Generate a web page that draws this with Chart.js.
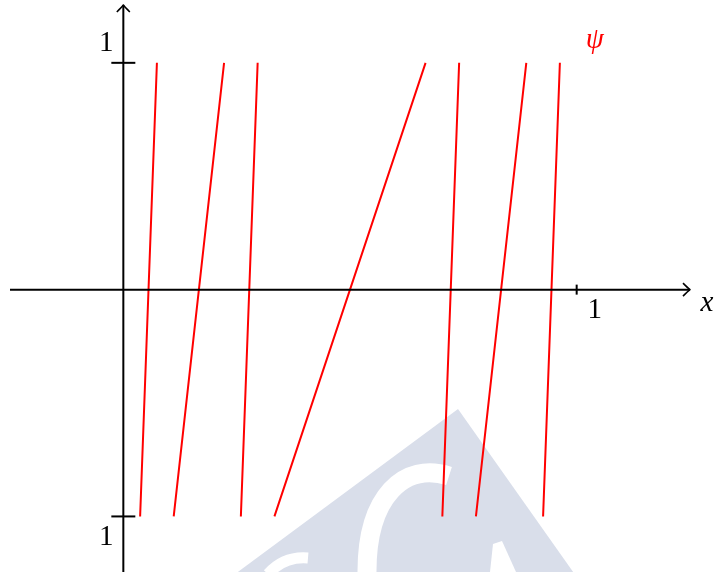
<!DOCTYPE html>
<html>
<head>
<meta charset="utf-8">
<script src="https://cdn.jsdelivr.net/npm/chart.js@4"></script>
<style>
  html, body { margin: 0; padding: 0; background: #ffffff; }
  #wrap { width: 714px; height: 572px; position: relative; }
</style>
</head>
<body>
<div id="wrap"><canvas id="chart"></canvas></div>
<script>
// Branches of psi: each runs from (start, -1) up to (end, 1)
const branchStart = [1 / 27, 3 / 27, 7 / 27, 9 / 27, 19 / 27, 21 / 27, 25 / 27];
const branchEnd = [2 / 27, 6 / 27, 8 / 27, 18 / 27, 20 / 27, 24 / 27, 26 / 27];
const yRange = [-1, 1];
const xTicks = [1];
const yTicks = [1, -1];
const yTickLabels = ['1', '1'];
const seriesLabel = 'ψ';
const xLabel = 'x';

// one dataset, branches separated by null gaps
const points = [];
branchStart.forEach((s, i) => {
  points.push({ x: s, y: yRange[0] });
  points.push({ x: branchEnd[i], y: yRange[1] });
  points.push({ x: null, y: null });
});

// faint logo stamp behind the plot
const stampPlugin = {
  id: 'stamp',
  beforeDatasetsDraw(chart) {
    const ctx = chart.ctx;
    ctx.save();
    ctx.fillStyle = '#d9deea';
    ctx.beginPath();
    ctx.moveTo(458, 409);
    ctx.lineTo(600, 610);
    ctx.lineTo(458, 760);
    ctx.lineTo(200, 600);
    ctx.closePath();
    ctx.fill();

    ctx.fillStyle = '#ffffff';
    ctx.strokeStyle = '#ffffff';
    // the "C"
    ctx.lineWidth = 19;
    ctx.lineCap = 'butt';
    ctx.beginPath();
    ctx.moveTo(449, 476);
    ctx.bezierCurveTo(405, 462, 366, 495, 367, 575);
    ctx.stroke();
    // pieces of the neighbouring letters
    ctx.beginPath();
    ctx.moveTo(493, 544);
    ctx.lineTo(502, 541);
    ctx.lineTo(516, 572);
    ctx.lineTo(490, 572);
    ctx.closePath();
    ctx.fill();
    ctx.lineWidth = 11;
    ctx.beginPath();
    ctx.moveTo(268, 574);
    ctx.quadraticCurveTo(284, 556, 308, 558);
    ctx.stroke();
    ctx.restore();
  }
};

// axes through the origin with arrowheads, ticks and labels
const axesPlugin = {
  id: 'crossAxes',
  afterDatasetsDraw(chart) {
    const ctx = chart.ctx;
    const xs = chart.scales.x;
    const ys = chart.scales.y;
    const area = chart.chartArea;
    const ox = xs.getPixelForValue(0);
    const oy = ys.getPixelForValue(0);
    ctx.save();
    ctx.strokeStyle = '#000000';
    ctx.lineWidth = 2;
    ctx.lineCap = 'butt';

    // x axis
    ctx.beginPath();
    ctx.moveTo(area.left, oy);
    ctx.lineTo(area.right, oy);
    ctx.stroke();
    // y axis
    ctx.beginPath();
    ctx.moveTo(ox, area.bottom);
    ctx.lineTo(ox, area.top);
    ctx.stroke();

    // arrowheads
    ctx.lineWidth = 1.6;
    ctx.lineJoin = 'round';
    ctx.beginPath();
    ctx.moveTo(area.right - 7, oy - 6.5);
    ctx.quadraticCurveTo(area.right - 2, oy - 1.5, area.right, oy);
    ctx.quadraticCurveTo(area.right - 2, oy + 1.5, area.right - 7, oy + 6.5);
    ctx.stroke();
    ctx.beginPath();
    ctx.moveTo(ox - 6.5, area.top + 7);
    ctx.quadraticCurveTo(ox - 1.5, area.top + 2, ox, area.top);
    ctx.quadraticCurveTo(ox + 1.5, area.top + 2, ox + 6.5, area.top + 7);
    ctx.stroke();

    // ticks
    ctx.lineWidth = 2;
    xTicks.forEach(v => {
      const px = xs.getPixelForValue(v);
      ctx.beginPath();
      ctx.moveTo(px, oy - 5);
      ctx.lineTo(px, oy + 5);
      ctx.stroke();
    });
    yTicks.forEach(v => {
      const py = ys.getPixelForValue(v);
      ctx.beginPath();
      ctx.moveTo(ox - 12, py);
      ctx.lineTo(ox + 12, py);
      ctx.stroke();
    });

    // labels
    ctx.fillStyle = '#000000';
    ctx.font = '29px "Liberation Serif", serif';
    ctx.textAlign = 'center';
    ctx.textBaseline = 'middle';
    xTicks.forEach(v => {
      ctx.fillText(String(v), xs.getPixelForValue(v) + 18, oy + 21);
    });
    yTicks.forEach((v, i) => {
      const py = ys.getPixelForValue(v);
      ctx.fillText(yTickLabels[i], ox - 17, v > 0 ? py - 19 : py + 21);
    });
    ctx.font = 'italic 29px "Liberation Serif", serif';
    ctx.fillText(xLabel, area.right + 17, oy + 14);
    ctx.fillStyle = '#ff0000';
    ctx.fillText(seriesLabel, xs.getPixelForValue(1.04), ys.getPixelForValue(1.1));
    ctx.restore();
  }
};

const ctx = document.getElementById('chart').getContext('2d');
const chart = new Chart(ctx, {
  type: 'scatter',
  data: {
    datasets: [{
      label: seriesLabel,
      data: points,
      showLine: true,
      spanGaps: false,
      borderColor: '#ff0000',
      borderWidth: 2,
      pointRadius: 0,
      fill: false
    }]
  },
  options: {
    responsive: true,
    maintainAspectRatio: false,
    animation: false,
    layout: { padding: { left: 10, right: 24, top: 5, bottom: 0 } },
    scales: {
      x: { type: 'linear', min: -0.25, max: 1.25, display: false },
      y: { type: 'linear', min: -1.245, max: 1.255, display: false }
    },
    plugins: {
      legend: { display: false },
      tooltip: { enabled: false }
    }
  },
  plugins: [stampPlugin, axesPlugin]
});
</script>
</body>
</html>
